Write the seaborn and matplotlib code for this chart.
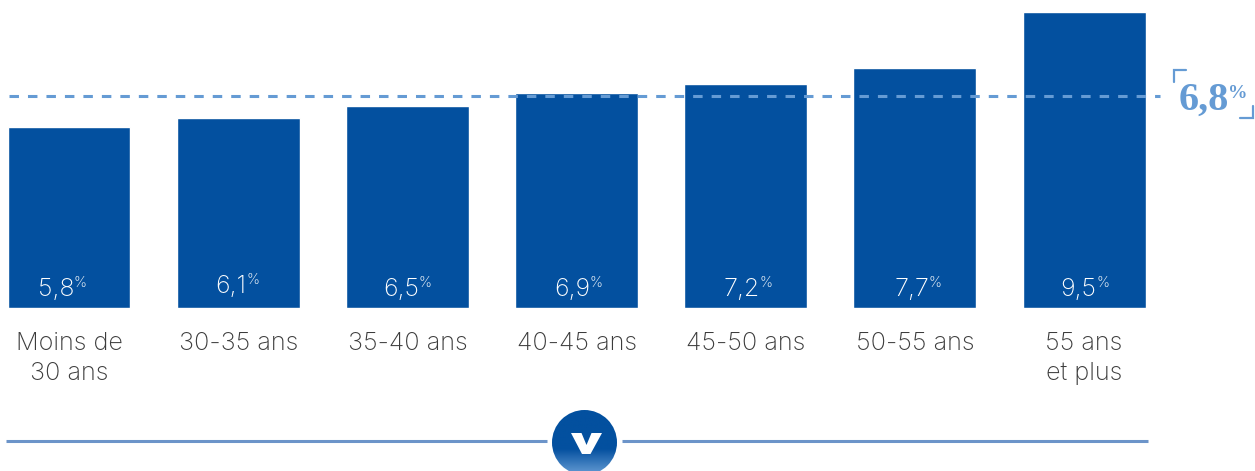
import numpy as np
import pandas as pd
import matplotlib
matplotlib.use("Agg")
import matplotlib.pyplot as plt
from matplotlib.colors import LinearSegmentedColormap
from matplotlib.patches import Circle, Polygon
import seaborn as sns

categories = ["Moins de\n30 ans", "30-35 ans", "35-40 ans", "40-45 ans", "45-50 ans", "50-55 ans", "55 ans\net plus"]
values = [5.8, 6.1, 6.5, 6.9, 7.2, 7.7, 9.5]
value_labels = ["5,8", "6,1", "6,5", "6,9", "7,2", "7,7", "9,5"]
average = 6.8
average_label = "6,8"
percent_sign = "%"

BAR = "#03509F"
LIGHT = "#659BD4"
RULE = "#6C94C9"
GREY = "#3C3C3C"
W, H = 1255, 471
FONT = "Inter"
PT = 0.72  # points per pixel at dpi 100

sns.set_theme(style="white")
plt.rcParams["font.family"] = [FONT, "DejaVu Sans"]

fig = plt.figure(figsize=(W / 100, H / 100), dpi=100, facecolor="white")
ax = fig.add_axes([0, (H - 308) / H, 1, 308 / H])
df = pd.DataFrame({"age": categories, "value": values})
sns.barplot(data=df, x="age", y="value", color=BAR, saturation=1, width=0.727, ax=ax)
ax.set_xlim(-69.0 / 169.17, (W - 69.0) / 169.17)
ax.set_ylim(0, 308 / 31.15)
ax.set_xlabel("")
ax.set_ylabel("")
ax.set_yticks([])
for s in ax.spines.values():
    s.set_visible(False)
ax.tick_params(axis="x", length=0, pad=17, labelsize=18.2, labelcolor=GREY)
for lab in ax.get_xticklabels():
    lab.set_linespacing(1.4)
    lab.set_verticalalignment("top")
    lab.set_fontweight("light")

# average line, ending just right of the last bar
ax.hlines(average, (9 - 69.0) / 169.17, (1160 - 69.0) / 169.17, color=LIGHT, lw=2.2,
          linestyles=(0, (3.1, 2.947)), zorder=5)

# value labels: the source nudges each one by hand
right_edge_px = [5.5, 8.5, 11.5, 13.5, 14.5, 14.5, 12.5]
baseline_px = [12, 15, 12, 12, 12, 12, 12]
for i, (lab, rx, by) in enumerate(zip(value_labels, right_edge_px, baseline_px)):
    ax.annotate(lab, (i, 0), xytext=(rx * PT, by * PT), textcoords="offset points",
                ha="right", va="baseline", color="white", fontsize=18, fontweight="light")
    ax.annotate(percent_sign, (i, 0), xytext=((rx - 0.5) * PT, (by + 9) * PT), textcoords="offset points",
                ha="left", va="baseline", color="white", fontsize=10.5, fontweight="light")

# overlay in pixel coordinates for the decoration
ov = fig.add_axes([0, 0, 1, 1], facecolor="none")
ov.set_xlim(0, W)
ov.set_ylim(H, 0)
ov.axis("off")

# average callout
ov.text(1179, 109.5, average_label, family="Liberation Serif", weight="bold", fontsize=29,
        color=LIGHT, ha="left", va="baseline")
ov.text(1227.5, 98, percent_sign, family="Liberation Serif", weight="bold", fontsize=14,
        color=LIGHT, ha="left", va="baseline")
ov.plot([1174, 1174, 1186], [82, 70, 70], color=LIGHT, lw=1.6, solid_joinstyle="miter")
ov.plot([1240, 1253, 1253], [118, 118, 106], color=LIGHT, lw=1.6, solid_joinstyle="miter")

# bottom rule and badge
ov.plot([6, 547], [441, 441], color=RULE, lw=2.2, solid_capstyle="butt")
ov.plot([622, 1148], [441, 441], color=RULE, lw=2.2, solid_capstyle="butt")
cmap = LinearSegmentedColormap.from_list("badge", [(0, BAR), (0.6, BAR), (1, LIGHT)])
grad = np.linspace(0, 1, 66)[:, None]
im = ov.imshow(grad, cmap=cmap, extent=(552, 617, 475, 410), aspect="auto", zorder=3)
im.set_clip_path(Circle((584.5, 442.5), 32.5, transform=ov.transData))
ov.set_xlim(0, W)
ov.set_ylim(H, 0)
ov.add_patch(Polygon([(571, 433), (581.5, 433), (586.5, 445), (591.5, 433), (602, 433), (590.5, 454), (582, 454)],
                     closed=True, facecolor="white", edgecolor="none", zorder=4))

fig.savefig("out.png", dpi=100)
